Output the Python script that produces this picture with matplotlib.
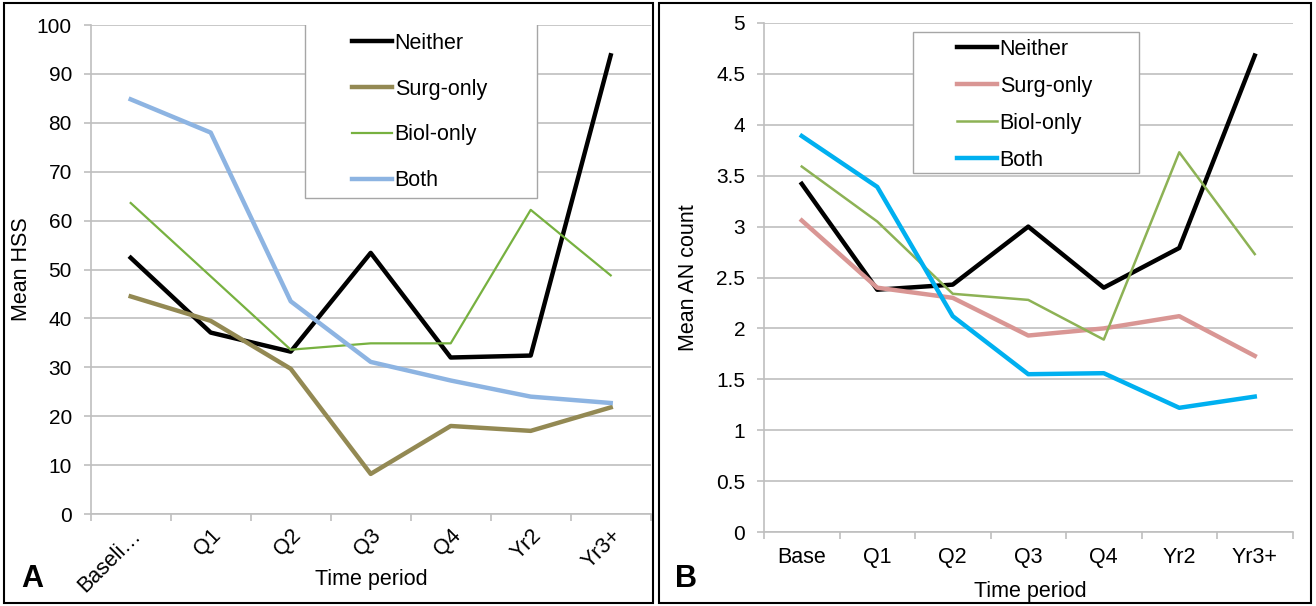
import matplotlib
matplotlib.use("Agg")
import matplotlib.pyplot as plt
from matplotlib.patches import Rectangle

plt.rcParams['font.family'] = ['Liberation Sans', 'DejaVu Sans']

# categorias
periods_a = ['Baseli…', 'Q1', 'Q2', 'Q3', 'Q4', 'Yr2', 'Yr3+']
periods_b = ['Base', 'Q1', 'Q2', 'Q3', 'Q4', 'Yr2', 'Yr3+']
groups = ['Neither', 'Surg-only', 'Biol-only', 'Both']

# painel A: Mean HSS
hss_neither = [52.4, 37.1, 33.2, 53.4, 32.0, 32.4, 93.8]
hss_surg = [44.5, 39.5, 29.7, 8.2, 18.0, 17.0, 21.8]
hss_biol = [63.6, 48.6, 33.6, 34.9, 34.9, 62.2, 48.8]
hss_both = [84.8, 78.0, 43.5, 31.1, 27.3, 24.0, 22.7]

# painel B: Mean AN count
an_neither = [3.42, 2.38, 2.43, 3.00, 2.40, 2.79, 4.68]
an_surg = [3.06, 2.40, 2.30, 1.93, 2.00, 2.12, 1.73]
an_biol = [3.59, 3.05, 2.34, 2.28, 1.89, 3.73, 2.73]
an_both = [3.89, 3.39, 2.12, 1.55, 1.56, 1.22, 1.33]

W, H = 1316, 606
FS = 15.5
fig = plt.figure(figsize=(W / 100, H / 100), dpi=100)

# molduras dos painéis
for x0, x1 in [(4, 653), (659, 1311)]:
    fig.patches.append(Rectangle((x0 / W, 3 / H), (x1 - x0) / W, (H - 6) / H,
                                 transform=fig.transFigure, fill=False,
                                 edgecolor='black', linewidth=1.5))

grid_c = '#BFBFBF'


def style_axis(ax, ylim, yticks, ylabels):
    ax.set_xlim(-0.5, 6.5)
    ax.set_ylim(*ylim)
    ax.set_yticks(yticks)
    ax.set_yticklabels(ylabels)
    ax.yaxis.grid(True, color=grid_c, linewidth=1.2)
    ax.set_axisbelow(True)
    for s in ['top', 'right']:
        ax.spines[s].set_visible(False)
    for s in ['left', 'bottom']:
        ax.spines[s].set_color(grid_c)
        ax.spines[s].set_linewidth(1.2)
    ax.set_xticks(range(7))
    ax.set_xticks([i - 0.5 for i in range(8)], minor=True)
    ax.tick_params(axis='x', which='major', length=0, pad=11)
    ax.tick_params(axis='x', which='minor', length=5, color=grid_c, width=1.2)
    ax.tick_params(axis='y', length=5, color=grid_c, width=1.2, labelsize=15, pad=8.5)


def legend_box(ax, box, handle_x, first_y, spacing):
    # caixa do legend desenhada à parte, como no Excel
    x0, y0, x1, y1 = box
    ax.add_patch(Rectangle((x0 / W, 1 - y1 / H), (x1 - x0) / W, (y1 - y0) / H,
                           transform=fig.transFigure, facecolor='white',
                           edgecolor='#A6A6A6', linewidth=1.0, zorder=4))
    fs_px = FS * 100 / 72
    leg = ax.legend(loc='upper left',
                    bbox_to_anchor=(handle_x / W, 1 - (first_y - 0.42 * fs_px) / H),
                    bbox_transform=fig.transFigure, fontsize=FS, frameon=False,
                    borderaxespad=0, borderpad=0, handlelength=1.86,
                    handletextpad=0.12, labelspacing=(spacing - 0.92 * fs_px) / fs_px)
    leg.set_zorder(5)
    return leg


xs = range(7)

# --- Painel A ---
axA = fig.add_axes([90.7 / W, 1 - 514 / H, 560 / W, 489 / H])
axA.plot(xs, hss_neither, color='black', lw=3.2, label='Neither')
axA.plot(xs, hss_surg, color='#938953', lw=3.2, label='Surg-only')
axA.plot(xs, hss_biol, color='#77B140', lw=1.6, label='Biol-only')
axA.plot(xs, hss_both, color='#8DB4E2', lw=3.2, label='Both')
style_axis(axA, (0, 100), range(0, 101, 10), [str(v) for v in range(0, 101, 10)])
axA.set_xticklabels(periods_a, rotation=45, ha='right', rotation_mode='anchor', fontsize=FS)
axA.tick_params(axis='x', which='major', pad=8)
axA.set_ylabel('Mean HSS', fontsize=FS, va='center')
axA.yaxis.set_label_coords((22 - 90.7) / 560, 0.5)
fig.text(371 / W, 1 - 580 / H, 'Time period', fontsize=FS, ha='center', va='center')
fig.text(21 / W, 1 - 579 / H, 'A', fontsize=22, fontweight='bold', ha='left', va='center')
legend_box(axA, (305, 19, 537, 198), 352, 42, 44.5)

# --- Painel B ---
axB = fig.add_axes([764 / W, 1 - 532 / H, 528.5 / W, 509 / H])
axB.plot(xs, an_neither, color='black', lw=3.2, label='Neither')
axB.plot(xs, an_surg, color='#D99694', lw=3.2, label='Surg-only')
axB.plot(xs, an_biol, color='#8DB255', lw=1.8, label='Biol-only')
axB.plot(xs, an_both, color='#00B0F0', lw=3.2, label='Both')
b_ticks = [i * 0.5 for i in range(11)]
b_labels = ['0', '0.5', '1', '1.5', '2', '2.5', '3', '3.5', '4', '4.5', '5']
style_axis(axB, (0, 5), b_ticks, b_labels)
axB.set_xticklabels(periods_b, fontsize=FS)
axB.set_ylabel('Mean AN count', fontsize=FS, va='center')
axB.yaxis.set_label_coords((688 - 764) / 528.5, 0.5)
fig.text(1030 / W, 1 - 591 / H, 'Time period', fontsize=FS, ha='center', va='center')
fig.text(675 / W, 1 - 579 / H, 'B', fontsize=22, fontweight='bold', ha='left', va='center')
legend_box(axB, (913, 32, 1139, 173), 957, 48, 35.7)

fig.savefig('out.png', dpi=100)
